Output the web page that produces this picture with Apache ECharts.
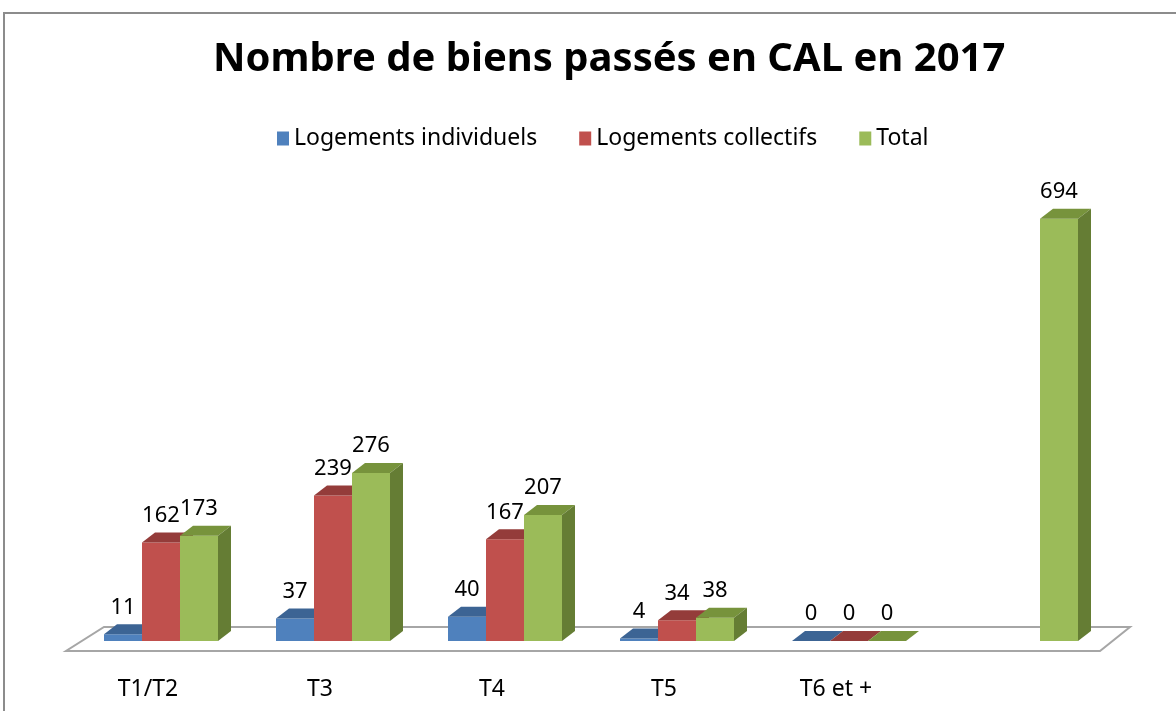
<!DOCTYPE html>
<html>
<head>
<meta charset="utf-8">
<script src="https://cdn.jsdelivr.net/npm/echarts@6/dist/echarts.min.js"></script>
<style>
  html, body { margin: 0; padding: 0; background: #fff; }
  #chart { width: 1176px; height: 711px; }
</style>
</head>
<body>
<div id="chart"></div>
<script>
const categories = ['T1/T2', 'T3', 'T4', 'T5', 'T6 et +', '']
const individuels = [11, 37, 40, 4, 0, null]
const collectifs = [162, 239, 167, 34, 0, null]
const total = [173, 276, 207, 38, 0, 694]
const seriesNames = ['Logements individuels', 'Logements collectifs', 'Total']

const FONT = '"Noto Sans", "DejaVu Sans", sans-serif'
// front / top / side colours for the fake 3D boxes
const palettes = [
  { front: '#4F81BD', top: '#3C6494', side: '#385D8A' },
  { front: '#C0504D', top: '#943C3A', side: '#8C3836' },
  { front: '#9BBB59', top: '#77933C', side: '#657D34' }
]
const DX = 13
const DY = -10

function barRenderer (slot) {
  const pal = palettes[slot]
  return function (params, api) {
    const v = api.value(1)
    if (v == null || isNaN(v)) return
    const band = api.size([1, 0])[0]
    const bw = band * 38 / 172
    const top = api.coord([api.value(0), v])
    const base = api.coord([api.value(0), 0])
    const x0 = top[0] + (slot - 1.5) * bw
    const x1 = x0 + bw
    const yt = top[1]
    const yb = base[1]
    return {
      type: 'group',
      children: [
        {
          type: 'rect',
          shape: { x: x0, y: yt, width: bw, height: yb - yt },
          style: { fill: pal.front }
        },
        {
          type: 'polygon',
          shape: { points: [[x0, yt], [x1, yt], [x1 + DX, yt + DY], [x0 + DX, yt + DY]] },
          style: { fill: pal.top }
        },
        {
          type: 'polygon',
          shape: { points: [[x1, yt], [x1 + DX, yt + DY], [x1 + DX, yb + DY], [x1, yb]] },
          style: { fill: pal.side }
        },
        {
          type: 'text',
          z2: 100,
          style: {
            text: String(v),
            x: x0 + bw / 2,
            y: yt - 27,
            align: 'center',
            verticalAlign: 'middle',
            fill: '#000',
            font: '22px ' + FONT
          }
        }
      ]
    }
  }
}

function floorRenderer (params, api) {
  const cs = params.coordSys
  const yb = api.coord([0, 0])[1]
  const gx = cs.x
  const gr = cs.x + cs.width
  return {
    type: 'polygon',
    shape: {
      points: [[gx - 9, yb + 10], [gr - 7, yb + 10], [gr + 23, yb - 14], [gx + 29, yb - 14]]
    },
    style: { fill: '#fff', stroke: '#A6A6A6', lineWidth: 2 }
  }
}

const chart = echarts.init(document.getElementById('chart'))
const seriesData = [individuels, collectifs, total]

const option = {
  animation: false,
  graphic: [{
    type: 'rect',
    z: -10,
    shape: { x: 4, y: 13, width: 1200, height: 800 },
    style: { fill: 'none', stroke: '#8C8C8C', lineWidth: 2 }
  }],
  title: {
    text: 'Nombre de biens passés en CAL en 2017',
    left: 208,
    top: 35,
    textStyle: { fontSize: 40, fontWeight: 'bold', color: '#000', fontFamily: FONT }
  },
  legend: {
    data: seriesNames,
    top: 122,
    left: 272,
    icon: 'rect',
    itemWidth: 12,
    itemHeight: 14,
    itemGap: 42,
    textStyle: { fontSize: 23, color: '#000', fontFamily: FONT }
  },
  grid: { left: 75, right: 69, top: 215, bottom: 70, containLabel: false },
  xAxis: {
    type: 'category',
    data: categories,
    axisLine: { show: false },
    axisTick: { show: false },
    splitLine: { show: false },
    axisLabel: {
      interval: 0,
      margin: 37,
      padding: [0, 26, 0, 0],
      fontSize: 23,
      color: '#000',
      fontFamily: FONT
    }
  },
  yAxis: {
    type: 'value',
    min: 0,
    max: 700,
    show: false
  },
  series: [{
    type: 'custom',
    name: 'floor',
    z: 1,
    silent: true,
    renderItem: floorRenderer,
    data: [[0, 0]]
  }].concat(seriesData.map(function (arr, i) {
    return {
      type: 'custom',
      name: seriesNames[i],
      z: 2 + i,
      itemStyle: { color: palettes[i].front },
      renderItem: barRenderer(i),
      encode: { x: 0, y: 1 },
      data: arr.map(function (v, j) { return [j, v == null ? '-' : v] })
    }
  }))
}

chart.setOption(option)
</script>
</body>
</html>
